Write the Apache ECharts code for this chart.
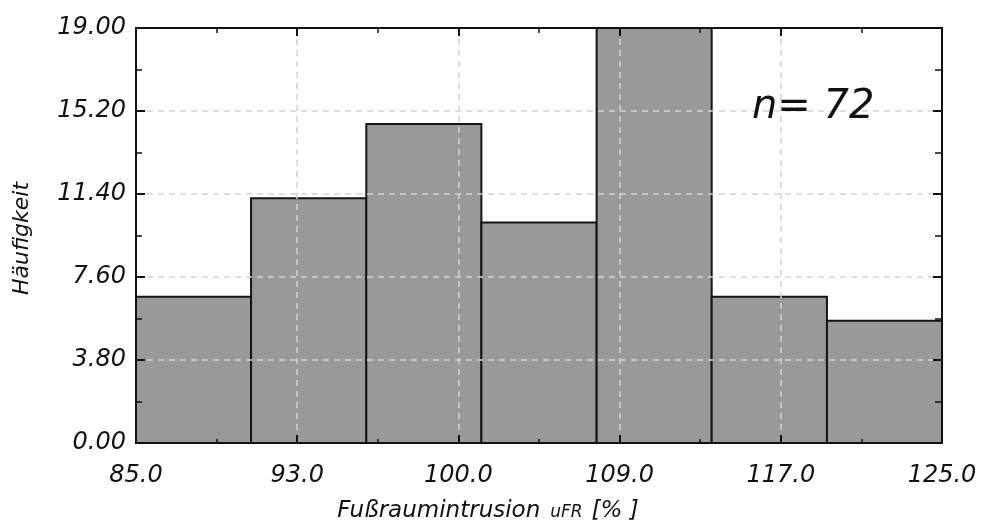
<!DOCTYPE html>
<html>
<head>
<meta charset="utf-8">
<script src="https://cdn.jsdelivr.net/npm/echarts@6/dist/echarts.min.js"></script>
<style>
html,body{margin:0;padding:0;background:#fff;}
#chart{width:991px;height:525px;}
</style>
</head>
<body>
<div id="chart"></div>
<script>
// Histogram bin edges (x values) and frequencies
const binEdges = [85, 90.71, 96.43, 102.14, 107.86, 113.57, 119.29, 125];
const frequencies = [6.7, 11.2, 14.6, 10.1, 19.0, 6.7, 5.6];
const xTickLabels = ['85.0', '93.0', '100.0', '109.0', '117.0', '125.0'];
const yTickLabels = ['0.00', '3.80', '7.60', '11.40', '15.20', '19.00'];
const xTickValues = [85, 93, 101, 109, 117, 125];
const sampleLabel = 'n= 72';
const xName = 'Fußraumintrusion';
const xNameSub = 'uFR';
const xNameUnit = '[% ]';
const yName = 'Häufigkeit';

const FONT = '"DejaVu Sans", "Liberation Sans", sans-serif';

const histData = frequencies.map((f, i) => [binEdges[i], binEdges[i + 1], f]);

const chart = echarts.init(document.getElementById('chart'), null, {renderer: 'canvas'});

const gridLine = {show: true, showMinLine: false, showMaxLine: false,
  lineStyle: {color: '#d2d2d2', width: 1.5, type: [6, 5]}};

const option = {
  backgroundColor: '#ffffff',
  animation: false,
  grid: {left: 136, right: 49, top: 28, bottom: 82, containLabel: false, outerBoundsMode: 'none'},
  xAxis: [{
    type: 'value', position: 'bottom', min: 85, max: 125, interval: 8, z: 10,
    axisLine: {show: true, onZero: false, lineStyle: {color: '#111', width: 2}},
    axisTick: {show: true, inside: true, length: 8, lineStyle: {color: '#111', width: 2}},
    minorTick: {show: true, splitNumber: 2, length: 4, lineStyle: {color: '#111', width: 1.5}},
    splitLine: gridLine,
    axisLabel: {
      margin: 21, color: '#111', fontSize: 24, fontStyle: 'italic', fontFamily: FONT,
      formatter: v => { const i = xTickValues.indexOf(Math.round(v)); return i >= 0 ? xTickLabels[i] : ''; }
    },
    name: '{main|' + xName + '}{sub|' + xNameSub + '}{unit|' + xNameUnit + '}',
    nameLocation: 'middle', nameGap: 57,
    nameTextStyle: {
      padding: [0, 102, 0, 0],
      rich: {
        main: {fontSize: 23, fontStyle: 'italic', fontFamily: FONT, color: '#111'},
        sub: {fontSize: 17, fontStyle: 'italic', fontFamily: FONT, color: '#111', padding: [2, 9, 0, 10]},
        unit: {fontSize: 23, fontStyle: 'italic', fontFamily: FONT, color: '#111'}
      }
    }
  }, {
    type: 'value', position: 'top', min: 85, max: 125, interval: 8, z: 10,
    axisLine: {show: true, onZero: false, lineStyle: {color: '#111', width: 2}},
    axisTick: {show: true, inside: true, length: 8, lineStyle: {color: '#111', width: 2}},
    minorTick: {show: true, splitNumber: 2, length: 5, lineStyle: {color: '#111', width: 1.5}},
    splitLine: {show: false}, axisLabel: {show: false}
  }],
  yAxis: [{
    type: 'value', position: 'left', min: 0, max: 19, interval: 3.8, z: 10,
    axisLine: {show: true, onZero: false, lineStyle: {color: '#111', width: 2}},
    axisTick: {show: true, inside: true, length: 9, lineStyle: {color: '#111', width: 2}},
    minorTick: {show: true, splitNumber: 2, length: 6, lineStyle: {color: '#111', width: 1.5}},
    splitLine: gridLine,
    axisLabel: {
      margin: 10, color: '#111', fontSize: 24, fontStyle: 'italic', fontFamily: FONT,
      formatter: v => { const i = Math.round(v / 3.8); return yTickLabels[i] !== undefined ? yTickLabels[i] : ''; }
    },
    name: yName, nameLocation: 'middle', nameGap: 103, nameRotate: 90,
    nameTextStyle: {fontSize: 22, fontStyle: 'italic', fontFamily: FONT, color: '#111', padding: [0, 6, 0, 0]}
  }, {
    type: 'value', position: 'right', min: 0, max: 19, interval: 3.8, z: 10,
    axisLine: {show: true, onZero: false, lineStyle: {color: '#111', width: 2}},
    axisTick: {show: true, inside: true, length: 9, lineStyle: {color: '#111', width: 2}},
    minorTick: {show: true, splitNumber: 2, length: 7, lineStyle: {color: '#111', width: 1.5}},
    splitLine: {show: false}, axisLabel: {show: false}
  }],
  series: [{
    type: 'custom', xAxisIndex: 0, yAxisIndex: 0, z: 2,
    data: histData,
    encode: {x: [0, 1], y: 2},
    renderItem: function (params, api) {
      const p0 = api.coord([api.value(0), api.value(2)]);
      const p1 = api.coord([api.value(1), 0]);
      return {
        type: 'rect',
        shape: {x: p0[0], y: p0[1], width: p1[0] - p0[0], height: p1[1] - p0[1]},
        style: {fill: '#999999', stroke: '#151515', lineWidth: 2}
      };
    }
  }],
  graphic: [{
    type: 'text', left: 752, top: 88, z: 20,
    style: {text: sampleLabel, font: 'italic 40px ' + FONT, fill: '#111'}
  }]
};
chart.setOption(option);
</script>
</body>
</html>
